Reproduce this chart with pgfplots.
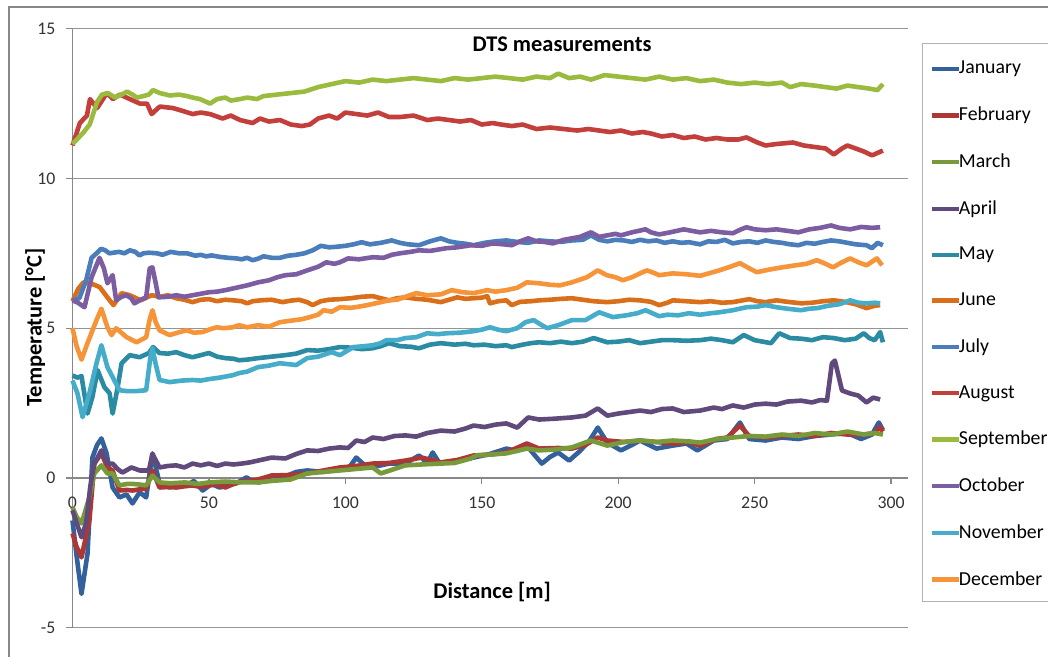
\documentclass[border=0pt]{standalone}
\usepackage{fontspec}
\setmainfont{Carlito}
\usepackage{pgfplots}
\pgfplotsset{compat=1.18}
\definecolor{cJan}{HTML}{34609B}
\definecolor{cFeb}{HTML}{AD3734}
\definecolor{cMar}{HTML}{789A3A}
\definecolor{cApr}{HTML}{604A7B}
\definecolor{cMay}{HTML}{2A8BA3}
\definecolor{cJun}{HTML}{DA6F1B}
\definecolor{cJul}{HTML}{4A7EBB}
\definecolor{cAug}{HTML}{C23F3B}
\definecolor{cSep}{HTML}{9BBB3F}
\definecolor{cOct}{HTML}{7D5DA2}
\definecolor{cNov}{HTML}{45ADCA}
\definecolor{cDec}{HTML}{F6943A}
\definecolor{axgray}{HTML}{888888}
\begin{document}
\begin{tikzpicture}
\begin{axis}[
  at={(36.25pt,14.65pt)}, anchor=south west,
  scale only axis, width=417.75pt, height=299.5pt,
  xmin=0, xmax=306.2, ymin=-5, ymax=15,
  axis x line=middle, axis y line=left,
  axis line style={-, draw=axgray, line width=0.7pt},
  xtick={0,50,...,300}, ytick={-5,0,5,10,15},
  xtick align=outside, ytick align=outside,
  major tick length=3pt,
  tick style={draw=axgray, line width=0.6pt},
  hide obscured x ticks=false, hide obscured y ticks=false,
  ymajorgrids, major grid style={draw=axgray!90, line width=0.6pt},
  /pgf/number format/assume math mode=true,
  ticklabel style={font=\fontsize{8.9}{10}\selectfont, text=black!80},
  yticklabel style={xshift=-2pt},
  xticklabel style={yshift=-3pt},
  clip=false,
  legend style={at={(1.0251,0.953)}, anchor=north west, draw=none, fill=none,
    font=\fontsize{9.9}{11}\selectfont, row sep=11pt, inner sep=0pt,
    /tikz/every odd column/.append style={column sep=-3pt}},
  legend cell align=left,
  legend image code/.code={\draw[#1] (0pt,0pt) -- (13.5pt,0pt);},
  every axis plot/.append style={line width=2.3pt, line join=round, mark=none},
]
\addplot[cJan] coordinates {(0,-1.42)(1.5,-2.6)(3.3,-3.87)(5.5,-2.53)(7.3,0.68)(9,1.1)(10.6,1.32)(12.5,0.82)(14.7,-0.32)(17.2,-0.65)(19.8,-0.55)(22,-0.85)(24.6,-0.48)(27,-0.65)(29.3,0.82)(31.9,-0.18)(35.6,-0.32)(38.5,-0.2)(41.8,-0.25)(44.5,-0.1)(47.7,-0.42)(51,-0.2)(53.9,-0.32)(57,-0.25)(60,-0.18)(63.8,0.02)(66,-0.12)(68.5,-0.15)(73,0.08)(78,0.05)(82,0.2)(86,0.25)(92,0.2)(98,0.32)(101,0.3)(104,0.68)(108,0.35)(112,0.4)(116,0.48)(122,0.48)(127,0.75)(130,0.5)(132,0.85)(134.6,0.48)(141,0.58)(147,0.68)(153,0.8)(159,0.98)(163,0.9)(166.5,1.08)(169,0.8)(172,0.48)(175,0.7)(178,0.85)(182,0.58)(186,0.9)(189.5,1.25)(192.5,1.68)(196,1.18)(201,0.92)(205,1.1)(208,1.25)(214,0.98)(220,1.08)(225,1.15)(229,0.92)(235,1.25)(240,1.3)(244.6,1.85)(248,1.3)(254,1.25)(260,1.35)(266,1.3)(272,1.4)(278,1.45)(284,1.5)(289,1.3)(293,1.45)(295.5,1.85)(297,1.6)};
\addlegendentry{January}
\addplot[cFeb] coordinates {(0,-1.85)(1.5,-2.3)(3.3,-2.65)(6.2,-1.42)(8,0.48)(10.6,0.82)(12.8,0.35)(14.7,0.25)(17.2,-0.42)(20,-0.4)(22,-0.42)(24.6,-0.38)(27,-0.35)(29.3,0.25)(31.9,-0.32)(35,-0.3)(38,-0.32)(41,-0.28)(44,-0.25)(47,-0.3)(50,-0.25)(53,-0.22)(56,-0.32)(59,-0.2)(62,-0.12)(65,-0.1)(68,-0.05)(73,0.08)(80,0.1)(86,0.15)(92,0.25)(98,0.35)(104,0.4)(110,0.48)(116,0.5)(122,0.58)(128,0.68)(135,0.52)(141,0.6)(147,0.75)(153,0.78)(159,0.85)(166.5,1.15)(171,0.98)(178,1.0)(183,0.98)(188,1.1)(192.5,1.35)(196,1.25)(202,1.2)(208,1.25)(214,1.2)(220,1.15)(226,1.2)(230,1.08)(236,1.3)(240,1.35)(244.6,1.75)(248,1.4)(254,1.35)(260,1.4)(266,1.45)(272,1.4)(278,1.5)(284,1.45)(290,1.45)(294,1.5)(296,1.7)(297,1.55)};
\addlegendentry{February}
\addplot[cMar] coordinates {(0,-0.98)(1.5,-1.3)(3.3,-1.52)(6.2,-0.65)(8,0.15)(10.6,0.42)(12.8,0.15)(14.7,0.15)(17.2,-0.25)(20,-0.2)(22,-0.2)(24.6,-0.22)(27,-0.25)(29.3,0.08)(31.9,-0.15)(36,-0.18)(41,-0.15)(46,-0.2)(50,-0.15)(56,-0.12)(62,-0.15)(68,-0.15)(73,-0.1)(80,-0.05)(86,0.15)(92,0.2)(98,0.25)(104,0.3)(110,0.35)(113,0.15)(122,0.42)(128,0.45)(135,0.48)(140,0.5)(146,0.65)(148,0.75)(153,0.78)(159,0.82)(166.5,0.98)(171,0.92)(177,0.95)(183,1.02)(190,1.25)(196,1.08)(202,1.2)(208,1.25)(214,1.2)(220,1.25)(226,1.22)(230,1.18)(236,1.3)(242,1.35)(248,1.4)(254,1.38)(260,1.45)(266,1.4)(272,1.5)(278,1.45)(284,1.55)(290,1.45)(294,1.5)(297,1.45)};
\addlegendentry{March}
\addplot[cApr] coordinates {(0,-1.08)(1.5,-1.5)(3.3,-1.98)(5,-1.5)(6.5,-0.3)(8,0.48)(10.6,0.92)(12.8,0.48)(14.7,0.48)(16.5,0.3)(18.3,0.18)(21.6,0.35)(24.6,0.25)(28,0.25)(29.3,0.8)(31.9,0.35)(35,0.4)(38,0.42)(41,0.35)(44,0.48)(47,0.42)(50,0.48)(53,0.4)(56,0.48)(59,0.45)(62,0.48)(65,0.52)(68,0.58)(73,0.68)(78,0.65)(82,0.8)(86,0.92)(90,0.9)(94,0.98)(98,1.02)(101,1.0)(104,1.25)(107,1.2)(110,1.35)(114,1.3)(118,1.4)(122,1.42)(126,1.38)(130,1.5)(135,1.58)(140,1.55)(144,1.65)(147,1.75)(151,1.7)(155,1.78)(159,1.82)(163,1.68)(167,2.02)(171,1.95)(177,1.98)(183,2.02)(188,2.08)(192.5,2.32)(196,2.08)(200,2.15)(204,2.2)(208,2.25)(212,2.2)(216,2.3)(220,2.32)(224,2.2)(230,2.25)(235,2.35)(238,2.3)(242,2.42)(246,2.35)(250,2.45)(254,2.48)(258,2.45)(262,2.55)(267,2.58)(271,2.52)(274,2.6)(276.5,2.58)(278.3,3.82)(279.4,3.92)(282,2.92)(285,2.82)(288,2.75)(291,2.52)(293.4,2.68)(296,2.62)};
\addlegendentry{April}
\addplot[cMay] coordinates {(0,3.42)(1.8,3.35)(3.3,3.4)(5.5,2.15)(7.3,2.7)(9.2,3.6)(11.7,3.03)(13.6,2.83)(14.7,2.15)(16.5,3.0)(18,3.83)(21,4.1)(24.6,4.03)(28,4.17)(29.5,4.37)(31.9,4.17)(35,4.15)(38,4.2)(41,4.1)(44,4.03)(47,4.1)(50,4.17)(53,4.05)(56,4.0)(59,3.98)(61,3.93)(64,3.95)(68,4.0)(73,4.05)(78,4.1)(82,4.15)(86,4.27)(90,4.25)(94,4.3)(98,4.37)(102,4.35)(106,4.3)(110,4.33)(113,4.4)(116,4.5)(120,4.4)(124,4.38)(127,4.33)(131,4.45)(135,4.5)(140,4.45)(144,4.48)(147,4.43)(151,4.45)(155,4.4)(159,4.43)(161,4.37)(165,4.45)(168,4.5)(171,4.53)(175,4.5)(179,4.55)(183,4.5)(187,4.55)(191,4.67)(196,4.53)(200,4.55)(204,4.6)(208,4.5)(212,4.55)(216,4.6)(220,4.6)(225,4.58)(230,4.6)(234,4.65)(238,4.6)(242,4.53)(246,4.77)(250,4.6)(253,4.55)(256,4.5)(259,4.83)(263,4.67)(267,4.65)(271,4.6)(275,4.7)(279,4.67)(283,4.6)(287,4.65)(290,4.83)(292,4.67)(294,4.6)(296,4.87)(297,4.53)};
\addlegendentry{May}
\addplot[cJun] coordinates {(0,5.9)(2,6.3)(4,6.53)(6,6.5)(8,6.45)(10,6.37)(12.8,6.03)(15,5.77)(18,6.17)(21,6.1)(25,5.93)(29,6.1)(32,6.05)(35,6.1)(38,6.0)(41,5.95)(44,5.87)(47,5.95)(50,5.97)(53,5.9)(56,5.95)(59,5.93)(62,5.9)(64,5.83)(66,5.9)(69,5.93)(73,5.95)(77,5.87)(80,5.92)(83,5.95)(86,5.87)(88,5.77)(91,5.9)(94,5.95)(98,5.97)(102,6.0)(106,6.05)(110,6.07)(113,6.0)(116,5.93)(119,6.0)(122,6.03)(126,5.98)(130,5.95)(135,5.87)(138,5.95)(141,6.03)(144,5.98)(147,6.0)(150,6.02)(152,6.07)(153,5.83)(156,5.9)(159,5.93)(161,5.77)(164,5.88)(168,5.9)(171,5.93)(175,5.95)(179,5.98)(183,6.0)(187,5.95)(191,5.9)(196,5.87)(200,5.9)(204,5.95)(208,5.93)(212,5.88)(215,5.77)(218,5.85)(220,5.93)(225,5.9)(230,5.87)(234,5.9)(238,5.85)(242,5.87)(245,5.92)(248,5.97)(251,5.9)(254,5.87)(258,5.93)(262,5.88)(267,5.83)(271,5.85)(275,5.9)(279,5.93)(283,5.88)(287,5.8)(291,5.67)(294,5.75)(296,5.77)};
\addlegendentry{June}
\addplot[cJul] coordinates {(0,5.93)(2.5,6.0)(5,6.6)(7,7.35)(8.8,7.5)(10.5,7.65)(12,7.6)(13.5,7.5)(15,7.52)(17,7.55)(19,7.5)(21,7.6)(23,7.55)(24.5,7.43)(26,7.5)(28,7.52)(31,7.5)(33,7.45)(36,7.55)(39,7.5)(42,7.5)(45,7.42)(47,7.45)(49,7.4)(51,7.43)(54,7.38)(57,7.35)(60,7.33)(62,7.3)(64,7.35)(66,7.27)(68,7.32)(70,7.4)(73,7.35)(76,7.35)(79,7.42)(82,7.45)(85,7.5)(88,7.6)(91,7.75)(94,7.7)(97,7.72)(100,7.75)(103,7.8)(106,7.87)(109,7.8)(113,7.85)(117,7.93)(120,7.85)(123,7.8)(127,7.77)(131,7.9)(135,8.0)(138,7.9)(141,7.85)(144,7.82)(147,7.77)(151,7.85)(155,7.9)(159,7.93)(163,7.88)(167,7.85)(171,7.93)(175,7.9)(179,7.88)(183,7.93)(187,7.95)(190,8.1)(193,7.95)(196,7.9)(199,7.95)(202,7.93)(205,7.88)(208,7.95)(211,7.9)(214,7.93)(217,7.85)(220,7.9)(223,7.85)(226,7.87)(230,7.8)(233,7.9)(236,7.88)(239,7.95)(242,7.83)(245,7.88)(248,7.9)(251,7.85)(254,7.93)(257,7.88)(260,7.85)(263,7.8)(266,7.77)(269,7.85)(272,7.82)(275,7.88)(278,7.93)(281,7.9)(284,7.85)(287,7.8)(291,7.77)(293,7.67)(295,7.85)(297,7.77)};
\addlegendentry{July}
\addplot[cAug] coordinates {(0,11.1)(2.7,11.85)(5.3,12.1)(6.4,12.65)(9,12.35)(10.1,12.5)(12.6,12.85)(14.8,12.65)(17.4,12.8)(21,12.65)(24.7,12.5)(27.3,12.5)(29,12.15)(32,12.4)(36.8,12.35)(40.5,12.25)(44,12.15)(47,12.2)(50.4,12.15)(55,12.0)(58,12.1)(61.4,11.95)(66,11.85)(68.7,12.0)(72,11.9)(76,11.95)(80,11.8)(84,11.75)(87,11.8)(90,12.0)(94,12.1)(97,12.0)(100,12.2)(104,12.15)(108,12.1)(112,12.2)(116,12.05)(120,12.05)(125,12.1)(130,11.95)(134,12.0)(138,11.95)(142,11.9)(146,11.95)(150,11.8)(154,11.85)(157,11.8)(161,11.75)(165,11.8)(170,11.65)(175,11.7)(180,11.65)(185,11.6)(189,11.65)(193,11.6)(197,11.55)(201,11.6)(205,11.5)(209,11.55)(212,11.5)(216,11.4)(220,11.45)(224,11.35)(228,11.4)(232,11.3)(236,11.35)(240,11.3)(244,11.3)(247,11.37)(251,11.2)(254,11.1)(258,11.15)(264,11.2)(268,11.1)(272,11.05)(276,11.0)(279,10.8)(282,11.0)(284,11.1)(287,11.0)(290,10.9)(293,10.77)(295,10.85)(297,10.93)};
\addlegendentry{August}
\addplot[cSep] coordinates {(0,11.15)(3.7,11.5)(6.3,11.8)(9,12.55)(10.8,12.8)(13,12.85)(15.6,12.7)(18,12.8)(20,12.9)(22,12.8)(23.6,12.7)(26,12.75)(28,12.8)(29.5,12.95)(32,12.85)(35.7,12.77)(39,12.8)(42,12.75)(44,12.7)(46.7,12.65)(50.4,12.5)(53,12.65)(56,12.7)(58,12.6)(61.4,12.65)(64,12.7)(67.6,12.65)(70,12.75)(75,12.8)(80,12.85)(85,12.9)(90,13.05)(95,13.15)(100,13.25)(105,13.2)(110,13.3)(115,13.25)(120,13.3)(125,13.35)(130,13.3)(135,13.25)(140,13.35)(145,13.3)(150,13.35)(155,13.4)(160,13.35)(165,13.3)(170,13.4)(175,13.35)(178,13.5)(182,13.35)(186,13.4)(190,13.3)(195,13.45)(200,13.4)(205,13.35)(210,13.3)(215,13.4)(220,13.3)(225,13.35)(230,13.25)(235,13.3)(240,13.2)(245,13.15)(250,13.2)(255,13.15)(260,13.2)(263,13.05)(267,13.15)(272,13.1)(276,13.05)(280,13.0)(284,13.1)(288,13.05)(292,13.0)(295,12.95)(297,13.15)};
\addlegendentry{September}
\addplot[cOct] coordinates {(0,5.93)(2,5.85)(4.4,5.7)(7,6.7)(9.9,7.35)(11.5,7.0)(12.8,6.5)(14.7,6.77)(16,5.93)(18,6.05)(19.8,6.1)(21.5,6.0)(22.7,5.83)(25,5.95)(27,6.03)(28.3,7.0)(29.3,7.03)(30.5,6.5)(31.5,6.03)(35,6.05)(38,6.1)(41,6.05)(44,6.1)(47,6.15)(50,6.2)(53,6.22)(56,6.27)(60,6.35)(64,6.43)(68,6.53)(72,6.6)(75,6.7)(78,6.77)(82,6.8)(86,6.93)(90,7.05)(93,7.2)(96,7.15)(98,7.2)(101,7.33)(105,7.3)(110,7.37)(114,7.35)(117,7.45)(120,7.5)(124,7.55)(127,7.6)(131,7.58)(137,7.67)(141,7.7)(146,7.77)(150,7.75)(154,7.83)(158,7.8)(161,7.77)(164,7.9)(167,8.0)(170,7.9)(173,7.88)(176,7.83)(180,7.95)(183,8.0)(186,8.05)(190,8.2)(193,8.05)(196,8.1)(199,8.15)(201,8.1)(205,8.2)(210,8.3)(212,8.2)(215,8.13)(219,8.2)(224,8.3)(227,8.25)(230,8.2)(234,8.25)(238,8.2)(242,8.17)(245,8.3)(247,8.37)(250,8.3)(254,8.27)(258,8.3)(262,8.25)(266,8.2)(270,8.3)(274,8.35)(278,8.43)(281,8.35)(285,8.3)(289,8.38)(293,8.35)(296,8.37)};
\addlegendentry{October}
\addplot[cNov] coordinates {(0,3.25)(1.8,2.83)(3.7,2.03)(6.2,2.83)(8.8,3.83)(10.6,4.43)(12.8,3.7)(14.7,3.37)(17.2,2.93)(19.8,2.9)(23.5,2.9)(27,2.93)(28.5,4.0)(29.3,4.33)(30.5,3.8)(31.9,3.27)(35.6,3.2)(40,3.25)(44,3.27)(47,3.25)(50,3.3)(54,3.35)(58.7,3.43)(61,3.5)(64,3.55)(68,3.7)(72,3.75)(76,3.83)(79,3.8)(82,3.77)(86,4.0)(90,4.05)(95,4.2)(98,4.1)(103,4.37)(107,4.4)(110,4.43)(113,4.5)(115,4.6)(119,4.6)(122,4.67)(126,4.7)(130,4.83)(134,4.8)(137,4.83)(142,4.85)(147,4.9)(150,4.95)(153,5.03)(156,4.95)(159,4.9)(163,5.0)(166,5.2)(169,5.27)(172,5.1)(174,5.0)(178,5.1)(183,5.27)(188,5.27)(193,5.53)(198,5.37)(203,5.43)(207,5.5)(210,5.6)(215,5.4)(218,5.45)(222,5.43)(226,5.5)(230,5.45)(234,5.5)(237,5.53)(242,5.6)(247,5.7)(251,5.72)(254,5.77)(258,5.7)(262,5.65)(267,5.6)(270,5.65)(273,5.67)(277,5.75)(281,5.8)(285,5.93)(288,5.85)(291,5.83)(294,5.85)(296,5.83)};
\addlegendentry{November}
\addplot[cDec] coordinates {(0,5.0)(1.5,4.4)(3.3,3.95)(5.5,4.5)(8.8,5.27)(10.6,5.65)(12.8,5.03)(14.3,4.77)(16,5.0)(19.8,4.7)(23.5,4.53)(27,4.7)(28.3,5.3)(29.3,5.6)(30.5,5.2)(31.9,4.93)(35.6,4.77)(38.5,4.85)(41.8,4.93)(44.5,4.85)(47.7,4.87)(50,4.95)(52.8,5.03)(55.5,5.0)(58.7,5.03)(61,5.1)(64,5.03)(68,5.1)(72,5.05)(76,5.2)(80,5.25)(84,5.3)(87,5.37)(90,5.45)(92,5.6)(95,5.55)(98,5.7)(102,5.68)(105,5.72)(108,5.77)(112,5.85)(116,5.93)(119,5.95)(122,6.05)(126,6.17)(130,6.1)(135,6.13)(139,6.27)(143,6.2)(147,6.17)(152,6.27)(155,6.22)(159,6.27)(163,6.35)(166.5,6.53)(171,6.5)(175,6.45)(178.6,6.43)(183,6.53)(188.5,6.7)(192.5,6.93)(195.8,6.77)(199,6.7)(201.7,6.6)(205,6.7)(208,6.83)(210.5,6.93)(213,6.85)(215,6.77)(220,6.83)(225,6.8)(230,6.75)(234,6.85)(237,6.93)(241,7.05)(244.6,7.17)(248,7.0)(250.8,6.87)(255,6.95)(260,7.03)(265,7.1)(269,7.15)(272.8,7.27)(276,7.15)(278.7,7.03)(282,7.2)(285,7.33)(288,7.2)(291,7.1)(294.8,7.33)(296.7,7.1)};
\addlegendentry{December}
\node[font=\bfseries\fontsize{11.2}{13}\selectfont] at (axis cs:179.4,14.47) {DTS measurements};
\node[font=\bfseries\fontsize{11.2}{13}\selectfont] at (axis cs:153.8,-3.82) {Distance [m]};
\node[font=\bfseries\fontsize{11.2}{13}\selectfont, rotate=90] at (axis cs:-13.7,5.03) {Temperature [°C]};
\end{axis}
\draw[axgray, line width=1pt] (4.5pt,-20pt) rectangle (560pt,324.75pt);
\draw[black!30, line width=0.6pt] (461.35pt,27.65pt) rectangle (560pt,306.85pt);
\pgfresetboundingbox
\useasboundingbox (0,0) rectangle (524pt,328.5pt);
\end{tikzpicture}
\end{document}
